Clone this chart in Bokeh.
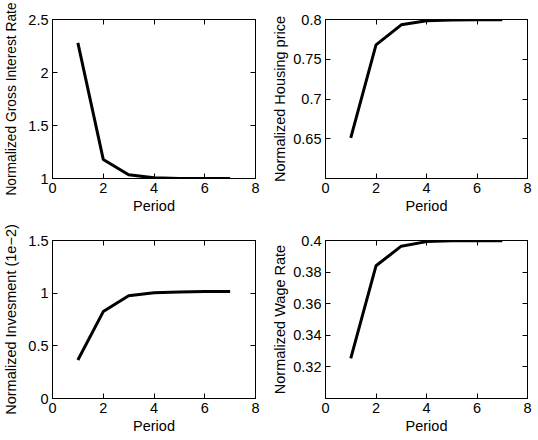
from bokeh.plotting import figure
from bokeh.layouts import gridplot
from bokeh.models import FixedTicker, LinearAxis, CustomLabelingPolicy
from bokeh.embed import file_html
from bokeh.resources import INLINE

period = [1, 2, 3, 4, 5, 6, 7]
interest = [2.28, 1.18, 1.035, 1.006, 1.001, 1.0, 1.0]
housing = [0.651, 0.768, 0.7933, 0.7985, 0.7995, 0.7998, 0.7998]
investment = [0.365, 0.825, 0.975, 1.005, 1.012, 1.015, 1.015]
wage = [0.3254, 0.384, 0.3964, 0.3993, 0.3998, 0.3999, 0.3999]

x_ticks = [0, 2, 4, 6, 8]
x_labels = ["0", "2", "4", "6", "8"]
interest_ticks = [1, 1.5, 2, 2.5]
interest_labels = ["1", "1.5", "2", "2.5"]
housing_ticks = [0.65, 0.7, 0.75, 0.8]
housing_labels = ["0.65", "0.7", "0.75", "0.8"]
invest_ticks = [0, 0.5, 1, 1.5]
invest_labels = ["0", "0.5", "1", "1.5"]
wage_ticks = [0.32, 0.34, 0.36, 0.38, 0.4]
wage_labels = ["0.32", "0.34", "0.36", "0.38", "0.4"]

FONT = "Liberation Sans"
FS = "14.5px"

HIDE_ALL = """
const n = indices.size
for (let i = 0; i < n; i++) { indices.unset(i) }
return indices
"""


def style_axis(ax, ticks, labels, show_labels=True):
    ax.ticker = FixedTicker(ticks=ticks)
    ax.minor_tick_line_color = None
    ax.major_tick_in = 5
    ax.major_tick_out = 0
    ax.axis_line_color = "black"
    ax.major_tick_line_color = "black"
    ax.major_label_text_font = FONT
    ax.major_label_text_color = "black"
    ax.axis_label_text_font = FONT
    ax.axis_label_text_font_style = "normal"
    ax.axis_label_text_font_size = FS
    ax.axis_label_text_color = "black"
    if show_labels:
        ax.major_label_overrides = {t: l for t, l in zip(ticks, labels)}
        ax.major_label_text_font_size = FS
        ax.major_label_standoff = 4
    else:
        ax.major_label_policy = CustomLabelingPolicy(code=HIDE_ALL)
        ax.major_label_text_font_size = "0px"
        ax.major_label_standoff = 0


def make(y, yr, yt, yl, ylabel, left, right, top, lab_off, lab_fs=FS):
    p = figure(width=269, height=220, x_range=(0, 8), y_range=yr,
               output_backend="svg", toolbar_location=None,
               min_border_left=left, min_border_right=right,
               min_border_top=top, min_border_bottom=42)
    p.line(period, y, line_width=3, color="black")
    p.xgrid.visible = False
    p.ygrid.visible = False
    p.outline_line_color = "black"
    p.outline_line_alpha = 1
    p.background_fill_color = "white"
    p.border_fill_color = "white"
    style_axis(p.xaxis[0], x_ticks, x_labels)
    style_axis(p.yaxis[0], yt, yl)
    p.xaxis.axis_label = "Period"
    p.xaxis.axis_label_standoff = 2
    p.yaxis.axis_label = ylabel
    p.yaxis.axis_label_standoff = lab_off
    p.yaxis.axis_label_text_font_size = lab_fs
    ra = LinearAxis()
    style_axis(ra, yt, yl, show_labels=False)
    p.add_layout(ra, "right")
    ta = LinearAxis()
    style_axis(ta, x_ticks, x_labels, show_labels=False)
    p.add_layout(ta, "above")
    return p


p1 = make(interest, (1, 2.5), interest_ticks, interest_labels,
          "Normalized Gross Interest Rate", 49, 14, 19, 6, "13.8px")
p2 = make(housing, (0.6, 0.8), housing_ticks, housing_labels,
          "Normalized Housing price", 54, 11, 19, 2)
p3 = make(investment, (0, 1.5), invest_ticks, invest_labels,
          "Normalized Invesment (1e\u22122)", 49, 14, 20, 6)
p4 = make(wage, (0.3, 0.4), wage_ticks, wage_labels,
          "Normalized Wage Rate", 54, 11, 20, 2)

grid = gridplot([[p1, p2], [p3, p4]], toolbar_location=None)

open("out.html", "w").write(file_html(grid, INLINE))
